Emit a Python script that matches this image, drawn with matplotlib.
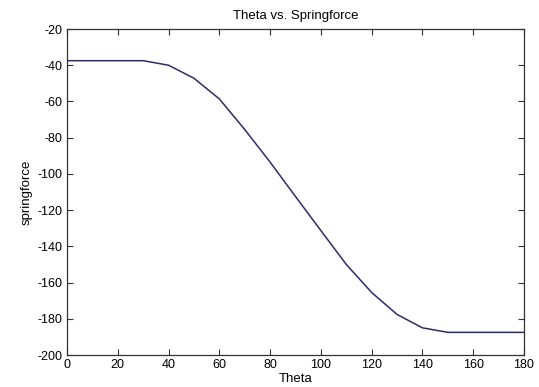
import matplotlib
matplotlib.use("Agg")
import matplotlib.pyplot as plt

theta = [0, 10, 20, 30, 40, 50, 60, 70, 80, 90, 100, 110, 120, 130, 140, 150, 160, 170, 180]
springforce = [-37.5, -37.5, -37.5, -37.5, -40.0, -47.2, -58.6, -75.5, -93.5, -112.5,
               -131.3, -150.0, -165.5, -177.6, -185.0, -187.5, -187.5, -187.5, -187.5]
xticks = [0, 20, 40, 60, 80, 100, 120, 140, 160, 180]
yticks = [-200, -180, -160, -140, -120, -100, -80, -60, -40, -20]

plt.rcParams['font.family'] = ['Liberation Sans', 'DejaVu Sans']
plt.rcParams['axes.unicode_minus'] = False

fig = plt.figure(figsize=(5.39, 3.87), dpi=100)
ax = fig.add_axes([67/539, 32/387, 457/539, 326/387])
ax.plot(theta, springforce, color='#2b2b6b', linewidth=1.1)
ax.set_xlim(0, 180)
ax.set_ylim(-200, -20)
ax.set_xticks(xticks)
ax.set_yticks(yticks)
ax.tick_params(direction='in', top=True, right=True, length=4, width=0.8,
               labelsize=9, color='#333333', pad=3)
for s in ax.spines.values():
    s.set_color('#333333')
    s.set_linewidth(0.9)
ax.set_title('Theta vs. Springforce', fontsize=9.5, pad=7)
ax.set_xlabel('Theta', fontsize=9.5, labelpad=1)
ax.set_ylabel('springforce', fontsize=9.5, labelpad=4)
fig.savefig('out.png', dpi=100)
